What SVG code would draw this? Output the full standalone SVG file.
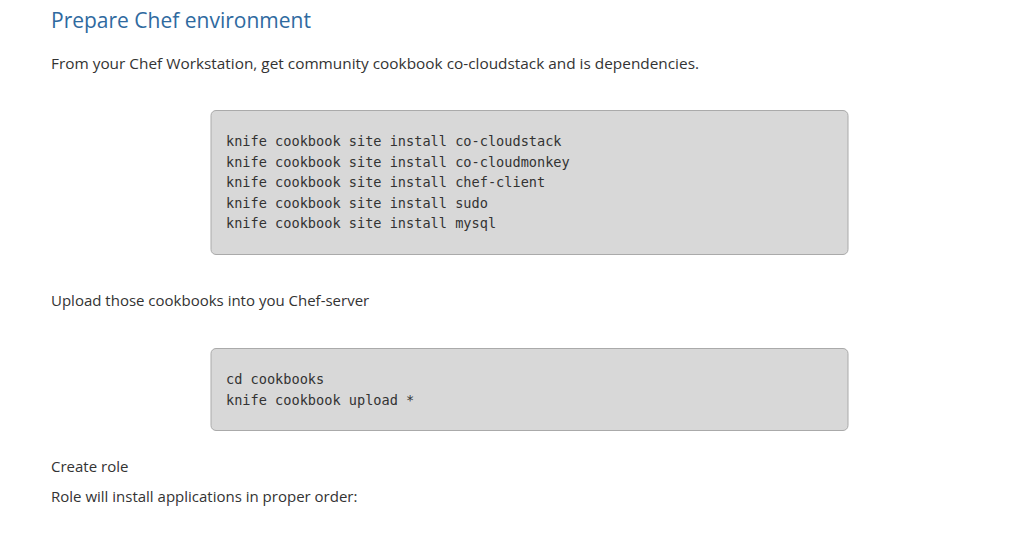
<svg xmlns="http://www.w3.org/2000/svg" width="1024" height="536" viewBox="0 0 1024 536">
<style>
.b{font-family:"Open Sans","Liberation Sans",sans-serif;font-size:15px;fill:#333}
.c{font-family:"DejaVu Sans Mono","Liberation Mono",monospace;font-size:13.6px;fill:#333}
.box{fill:#d8d8d8;stroke:#aaa;stroke-width:1}
</style>
<rect width="1024" height="536" fill="#fff"/>
<text x="51" y="28" font-family="'Open Sans','Liberation Sans',sans-serif" font-size="21" fill="#2f6a9f">Prepare Chef environment</text>
<text class="b" x="51" y="69" textLength="648" lengthAdjust="spacingAndGlyphs">From your Chef Workstation, get community cookbook co-cloudstack and is dependencies.</text>
<rect class="box" x="211" y="110.5" width="637" height="144" rx="5"/>
<text class="c" x="226" y="146">knife cookbook site install co-cloudstack</text>
<text class="c" x="226" y="166.5">knife cookbook site install co-cloudmonkey</text>
<text class="c" x="226" y="187">knife cookbook site install chef-client</text>
<text class="c" x="226" y="207.5">knife cookbook site install sudo</text>
<text class="c" x="226" y="228">knife cookbook site install mysql</text>
<text class="b" x="51" y="306">Upload those cookbooks into you Chef-server</text>
<rect class="box" x="211" y="348.5" width="637" height="82" rx="5"/>
<text class="c" x="226" y="384">cd cookbooks</text>
<text class="c" x="226" y="404.5">knife cookbook upload *</text>
<text class="b" x="51" y="472">Create role</text>
<text class="b" x="51" y="502">Role will install applications in proper order:</text>
</svg>
